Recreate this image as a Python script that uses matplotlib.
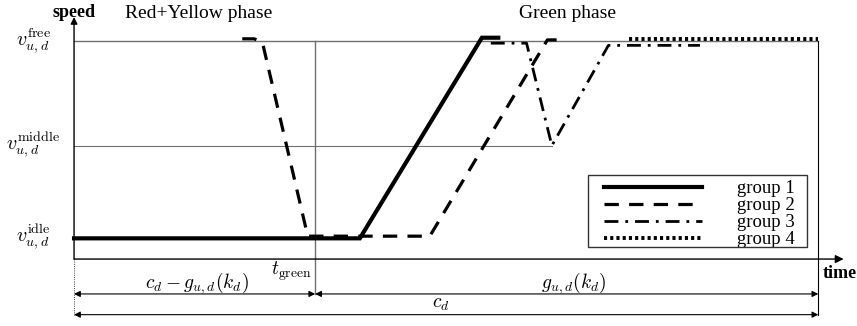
"""
Speed profiles of four vehicle groups over one signal cycle
"""

import matplotlib.pyplot as plt
from matplotlib.lines import Line2D
from matplotlib.patches import Rectangle

plt.rcParams['font.family'] = ['Liberation Serif', 'DejaVu Serif']
plt.rcParams['mathtext.fontset'] = 'cm'

# Speed levels (arbitrary units) and cycle timing (percent of cycle c_d)
v_idle = 1.0
v_middle = 5.2
v_free = 10.0
t_green = 32.4
c_cycle = 100.0

# Speed profile of each group: (time, speed) breakpoints
g1_t = [0.0, 38.4, 54.8, 57.0]
g1_v = [0.95, 0.95, 10.15, 10.15]
g2_t = [22.6, 24.2, 25.3, 31.4, 47.8, 63.6, 65.6]
g2_v = [10.1, 10.1, 9.95, 1.05, 1.05, 10.05, 10.05]
g3_t = [56.0, 60.8, 64.2, 71.8, 84.1]
g3_v = [9.9, 9.9, 5.2, 9.8, 9.8]
g4_t = [74.5, 100.0]
g4_v = [10.1, 10.1]

labels = ["group 1", "group 2", "group 3", "group 4"]

fig = plt.figure(figsize=(8.57, 3.26), dpi=100)
ax = fig.add_axes([0, 0, 1, 1])
ax.set_xlim(-9.95, 105.2)
ax.set_ylim(-3.07, 11.88)
ax.axis('off')

# Reference lines for speed levels and phase boundaries
gray = '#707070'
ax.plot([0, c_cycle], [v_free, v_free], color=gray, lw=1.0, zorder=1)
ax.plot([0, 64.2], [v_middle, v_middle], color=gray, lw=0.8, zorder=1)
ax.plot([t_green, t_green], [-1.6, v_free], color=gray, lw=1.0, zorder=1)
ax.plot([c_cycle, c_cycle], [-2.55, v_free], color='black', lw=0.8, zorder=1)
ax.plot([0, 0], [-2.55, 0], color='black', lw=0.6, ls=':', zorder=1)

# Axes with arrows
ax.annotate("", xy=(0, 11.1), xytext=(0, 0),
            arrowprops=dict(arrowstyle='-|>', color='black', lw=1.0,
                            mutation_scale=10, shrinkA=0, shrinkB=0))
ax.annotate("", xy=(103.4, 0), xytext=(0, 0),
            arrowprops=dict(arrowstyle='-|>', color='black', lw=1.0,
                            mutation_scale=12, shrinkA=0, shrinkB=0))
ax.text(0.0, 11.3, "speed", fontsize=13, fontweight='bold', ha='center', va='center')
ax.text(100.6, -0.65, "time", fontsize=13, fontweight='bold', ha='left', va='center')

# Group profiles
ax.plot(g1_t, g1_v, color='black', lw=3.0, solid_joinstyle='miter', zorder=3)
ax.plot(g2_t, g2_v, color='black', lw=2.3, dashes=(4.5, 3.2), zorder=3)
ax.plot(g3_t, g3_v, color='black', lw=2.0, dashes=(5, 2.5, 1, 2.5), zorder=3)
ax.plot(g4_t, g4_v, color='black', lw=2.8, dashes=(0.8, 0.8), zorder=3)

# Level labels on the speed axis
ax.text(-5.5, v_free, r"$v_{u,d}^{\mathrm{free}}$", fontsize=14.5, ha='center', va='center')
ax.text(-5.5, v_middle, r"$v_{u,d}^{\mathrm{middle}}$", fontsize=14.5, ha='center', va='center')
ax.text(-5.5, v_idle, r"$v_{u,d}^{\mathrm{idle}}$", fontsize=14.5, ha='center', va='center')

# Phase titles
ax.text(16.8, 11.25, "Red+Yellow phase", fontsize=14, ha='center', va='center')
ax.text(66.3, 11.25, "Green phase", fontsize=14, ha='center', va='center')

# Duration arrows below the time axis
arrow = dict(arrowstyle='<|-|>', color='black', lw=0.8, mutation_scale=9,
             shrinkA=0, shrinkB=0)
ax.annotate("", xy=(0, -1.6), xytext=(t_green, -1.6), arrowprops=arrow)
ax.annotate("", xy=(t_green, -1.6), xytext=(c_cycle, -1.6), arrowprops=arrow)
ax.annotate("", xy=(0, -2.55), xytext=(c_cycle, -2.55), arrowprops=arrow)
ax.text(16.5, -1.1, r"$c_d - g_{u,d}(k_d)$", fontsize=14, ha='center', va='center')
ax.text(29.2, -0.55, r"$t_{\mathrm{green}}$", fontsize=14, ha='center', va='center')
ax.text(67.1, -1.1, r"$g_{u,d}(k_d)$", fontsize=14, ha='center', va='center')
ax.text(49.3, -2.1, r"$c_d$", fontsize=14, ha='center', va='center')

# Legend: entries without frame, box drawn separately
handles = [
    Line2D([], [], color='black', lw=3.0),
    Line2D([], [], color='black', lw=2.3, dashes=(4.5, 3.2)),
    Line2D([], [], color='black', lw=2.0, dashes=(5, 2.5, 1, 2.5)),
    Line2D([], [], color='black', lw=2.8, dashes=(0.8, 0.8)),
]
ax.legend(handles, labels, loc='upper left', bbox_to_anchor=(604 / 857, 1 - 180 / 326),
          bbox_transform=fig.transFigure, fontsize=13.5, frameon=False,
          handlelength=5.2, handletextpad=1.9, labelspacing=0.0,
          borderpad=0, borderaxespad=0)
fig.patches.append(Rectangle((588 / 857, 1 - 247 / 326), 219 / 857, 72 / 326,
                             transform=fig.transFigure, fill=False,
                             edgecolor='#333333', lw=1.0))

fig.savefig("out.png", dpi=100)
